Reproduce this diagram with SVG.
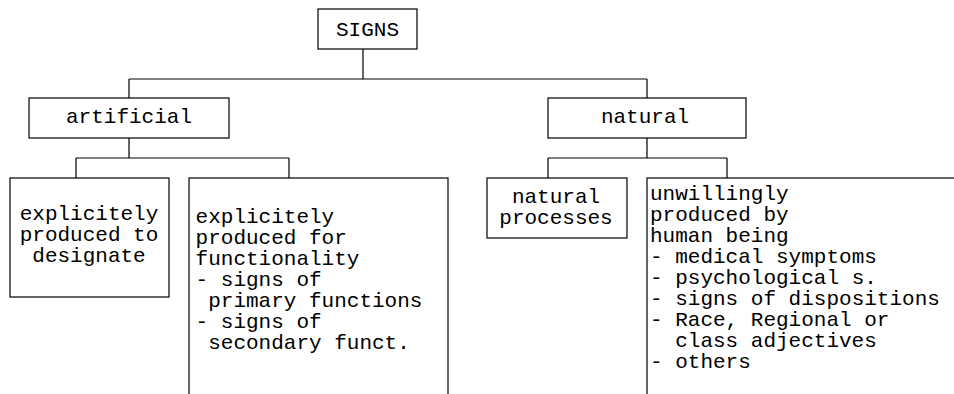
<svg xmlns="http://www.w3.org/2000/svg" width="954" height="394" viewBox="0 0 954 394">
  <style>
    .box { fill: #fff; stroke: #000; stroke-width: 1.2; }
    .wire { fill: none; stroke: #000; stroke-width: 1.2; }
    text { font-family: "Liberation Mono", "Courier New", monospace; font-size: 21px; fill: #000; }
    .c { text-anchor: middle; }
  </style>
  <rect width="954" height="394" fill="#fff"/>

  <!-- tree connectors -->
  <g id="connectors">
    <path class="wire" d="M363 49 V79 M129 79 H647 M129 79 V98 M647 79 V98"/>
    <path class="wire" d="M129 138 V158 M76 158 H289 M76 158 V178 M289 158 V178"/>
    <path class="wire" d="M647 138 V158 M548 158 H727 M548 158 V178 M727 158 V178"/>
  </g>

  <g id="signs">
    <rect class="box" x="318" y="9" width="99" height="40"/>
    <text class="c" x="367.5" y="36">SIGNS</text>
  </g>

  <g id="artificial">
    <rect class="box" x="29" y="98" width="200" height="40"/>
    <text class="c" x="129" y="123">artificial</text>
  </g>

  <g id="natural">
    <rect class="box" x="548" y="98" width="198" height="40"/>
    <text class="c" x="645" y="123">natural</text>
  </g>

  <g id="designate">
    <rect class="box" x="10" y="178" width="159" height="119"/>
    <text class="c" x="89" y="220">explicitely</text>
    <text class="c" x="89" y="241">produced to</text>
    <text class="c" x="89" y="262">designate</text>
  </g>

  <g id="functionality">
    <rect class="box" x="189" y="178" width="259" height="240"/>
    <text x="195.6" y="223">explicitely</text>
    <text x="195.6" y="244">produced for</text>
    <text x="195.6" y="265">functionality</text>
    <text x="195.6" y="286">- signs of</text>
    <text x="208.2" y="307">primary functions</text>
    <text x="195.6" y="328">- signs of</text>
    <text x="208.2" y="349">secondary funct.</text>
  </g>

  <g id="processes">
    <rect class="box" x="487" y="178" width="140" height="60"/>
    <text class="c" x="556" y="203">natural</text>
    <text class="c" x="556" y="224">processes</text>
  </g>

  <g id="unwillingly">
    <rect class="box" x="647" y="178" width="340" height="240"/>
    <text x="650" y="200">unwillingly</text>
    <text x="650" y="221">produced by</text>
    <text x="650" y="242">human being</text>
    <text x="650" y="263">- medical symptoms</text>
    <text x="650" y="284">- psychological s.</text>
    <text x="650" y="305">- signs of dispositions</text>
    <text x="650" y="326">- Race, Regional or</text>
    <text x="675.2" y="347">class adjectives</text>
    <text x="650" y="368">- others</text>
  </g>
</svg>
